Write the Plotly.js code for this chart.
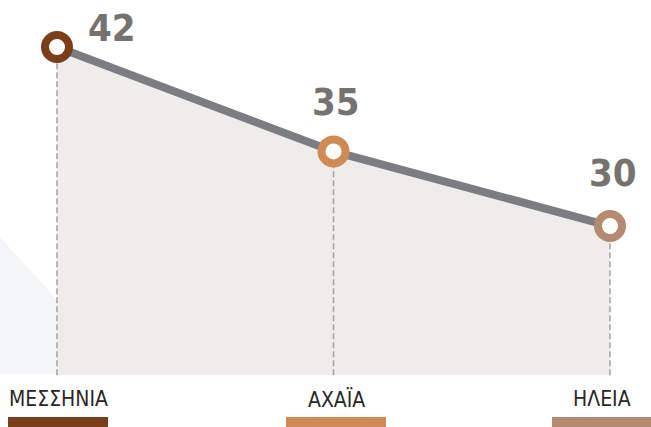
<!DOCTYPE html>
<html>
<head>
<meta charset="utf-8">
<script src="https://cdn.plot.ly/plotly-3.0.1.min.js"></script>
<style>html,body{margin:0;padding:0;background:#fff;}#chart{width:651px;height:427px;}</style>
</head>
<body>
<div id="chart"></div>
<script>
// ---- data ----
const regions = ["ΜΕΣΣΗΝΙΑ", "ΑΧΑΪΑ", "ΗΛΕΙΑ"];
const values = [42, 35, 30];
const valueLabels = ["42", "35", "30"];
const baseValue = 20;

// ---- styles ----
const regionColors = ["#7a3f1a", "#cf8a56", "#b48a71"];
const labelShift = [[55, 19], [2, 49], [3, 53]];   // px offsets of value labels
const barShift = [1, 2.5, -8];                      // px offsets of colour bars

const W = 651, H = 427;
const px = v => v / W, py = v => 1 - v / H;

const baseY = regions.map(() => baseValue);
const dashX = [], dashY = [];
regions.forEach((r, i) => { dashX.push(r, r, null); dashY.push(baseValue, values[i], null); });

const traces = [
  {x: regions, y: baseY, mode: "lines", line: {width: 0}, hoverinfo: "skip", showlegend: false},
  {x: regions, y: values, mode: "lines", fill: "tonexty", fillcolor: "#eeedeb",
   line: {width: 0}, hoverinfo: "skip", showlegend: false},
  {x: dashX, y: dashY, mode: "lines", line: {color: "#a3a3a3", width: 1.5, dash: "6px,3px"},
   hoverinfo: "skip", showlegend: false},
  {x: regions, y: values, mode: "lines+markers",
   line: {color: "#7c7d82", width: 8},
   marker: {size: 24, color: "#ffffff", line: {color: regionColors, width: 8}},
   showlegend: false}
];

const numFont = "Liberation Sans Narrow, DejaVu Sans Condensed, Roboto";
const annotations = [];
regions.forEach((r, i) => {
  annotations.push({x: r, y: values[i], xref: "x", yref: "y", text: valueLabels[i], showarrow: false,
    xshift: labelShift[i][0], yshift: labelShift[i][1], xanchor: "center", yanchor: "middle",
    font: {family: numFont, size: 38, color: "#767270", weight: "bold"}});
  annotations.push({x: r, y: py(399), xref: "x", yref: "paper", text: r, showarrow: false,
    xshift: barShift[i], xanchor: "center", yanchor: "middle",
    font: {family: numFont, size: 21, color: "#2a2627"}});
});

const shapes = regions.map((r, i) => ({
  type: "rect", xref: "x", yref: "paper", xsizemode: "pixel", xanchor: i,
  x0: -50 + barShift[i], x1: 50 + barShift[i], y0: py(427), y1: py(417),
  fillcolor: regionColors[i], line: {width: 0}, layer: "above"
}));
// faint diagonal decoration
shapes.push({type: "path", xref: "paper", yref: "paper", layer: "below",
  path: `M ${px(0)},${py(237)} L ${px(57)},${py(300)} L ${px(57)},${py(374)} L ${px(0)},${py(374)} Z`,
  fillcolor: "rgba(240,241,244,0.7)", line: {width: 0}});

const layout = {
  width: W, height: H,
  margin: {l: 0, r: 0, t: 0, b: 0},
  paper_bgcolor: "#ffffff", plot_bgcolor: "rgba(0,0,0,0)",
  xaxis: {type: "category", range: [-57 / 276.5, 2 + 41 / 276.5], visible: false, fixedrange: true},
  yaxis: {range: [16.53, 45.15], visible: false, fixedrange: true},
  annotations: annotations,
  shapes: shapes,
  showlegend: false
};

Plotly.newPlot("chart", traces, layout, {displayModeBar: false, staticPlot: true});
</script>
</body>
</html>
